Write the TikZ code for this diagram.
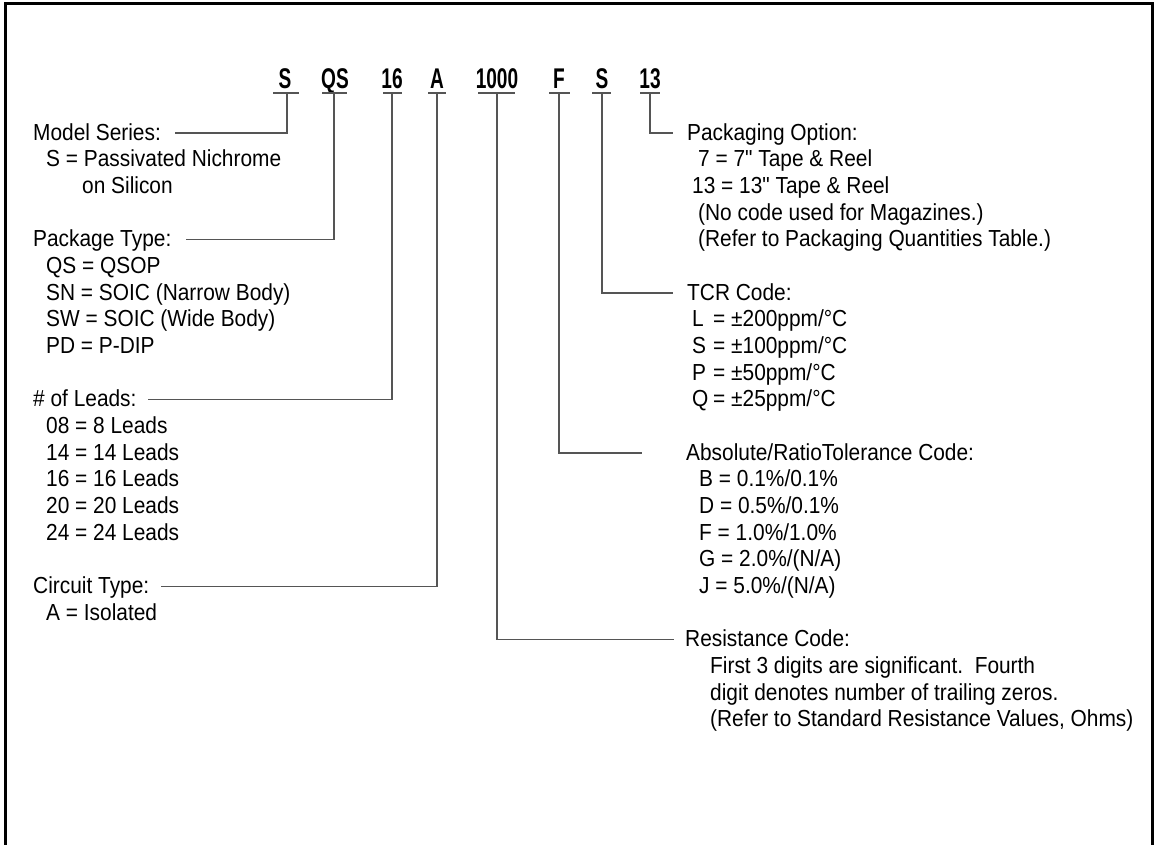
\documentclass[tikz,border=0pt]{standalone}
\usepackage{fontspec}
\setmainfont{Liberation Sans}[FakeStretch=0.90, Ligatures=TeXOff]
\newfontfamily\codefont{Liberation Sans}[FakeStretch=0.67]
\usetikzlibrary{calc}
\definecolor{conncol}{HTML}{555555}
\tikzset{
  txt/.style={anchor=base west, inner sep=0pt, font=\fontsize{23.2}{26.67}\selectfont},
  head/.style={txt, text height=18pt, text depth=4pt},
  code/.style={anchor=base, inner sep=0pt, font=\codefont\bfseries\fontsize{28.5}{30}\selectfont},
  uline/.style={draw=conncol, line width=1.3pt},
  conn/.style={draw=conncol, line width=1.3pt},
  frame/.style={draw=black, line width=3pt}
}
\begin{document}
\begin{tikzpicture}[x=1pt,y=-1pt]
\useasboundingbox (0,0) rectangle (1157,844);
\draw[frame] (5.5,845) -- (5.5,3.5) -- (1152.5,3.5) -- (1152.5,845);

% codes
\node[code] (cS)  at (285,88) {S};
\node[code] (cQS) at (335,88) {QS};
\node[code] (c16) at (392,88) {16};
\node[code] (cA)  at (437,88) {A};
\node[code] (c1000) at (497,88) {1000};
\node[code] (cF)  at (559,88) {F};
\node[code] (cT)  at (602,88) {S};
\node[code] (c13) at (650,88) {13};

\coordinate (uS) at (287,93);
\coordinate (uQS) at (334,93);
\coordinate (u16) at (392,93);
\coordinate (uA) at (437,93);
\coordinate (u1000) at (497,93);
\coordinate (uF) at (559,93);
\coordinate (uT) at (602,93);
\coordinate (u13) at (650,93);

\draw[uline] (273,93) -- (299,93);
\draw[uline] (322,93) -- (347,93);
\draw[uline] (383,93) -- (402,93);
\draw[uline] (428,93) -- (446,93);
\draw[uline] (478,93) -- (515,93);
\draw[uline] (549,93) -- (570,93);
\draw[uline] (592,93) -- (611,93);
\draw[uline] (640,93) -- (660,93);

% left column
\node[head] (msh) at (33,140) {Model Series:};
\node[txt] (ms1) at (46,166.7) {S = Passivated Nichrome};
\node[txt] (ms2) at (82,193.3) {on Silicon};

\node[head] (pth) at (33,246.7) {Package Type:};
\node[txt] (pt1) at (46,273.3) {QS = QSOP};
\node[txt] (pt2) at (46,300) {SN = SOIC (Narrow Body)};
\node[txt] (pt3) at (46,326.7) {SW = SOIC (Wide Body)};
\node[txt] (pt4) at (46,353.3) {PD = P-DIP};

\node[head] (nlh) at (33,406.7) {\# of Leads:};
\node[txt] (nl1) at (46,433.3) {08 = 8 Leads};
\node[txt] (nl2) at (46,460) {14 = 14 Leads};
\node[txt] (nl3) at (46,486.7) {16 = 16 Leads};
\node[txt] (nl4) at (46,513.3) {20 = 20 Leads};
\node[txt] (nl5) at (46,540) {24 = 24 Leads};

\node[head] (cth) at (33,593.3) {Circuit Type:};
\node[txt] (ct1) at (46,620) {A = Isolated};

% right column
\node[head] (poh) at (687,140) {Packaging Option:};
\node[txt] (po1) at (698,166.7) {7 = 7" Tape \& Reel};
\node[txt] (po2) at (692,193.3) {13 = 13" Tape \& Reel};
\node[txt] (po3) at (698,220) {(No code used for Magazines.)};
\node[txt] (po4) at (698,246.7) {(Refer to Packaging Quantities Table.)};

\node[head] (tch) at (687,300) {TCR Code:};
\node[txt] (tc1) at (692,326.7) {\makebox[21pt][l]{L}= ±200ppm/°C};
\node[txt] (tc2) at (692,353.3) {\makebox[21pt][l]{S}= ±100ppm/°C};
\node[txt] (tc3) at (692,380) {\makebox[21pt][l]{P}= ±50ppm/°C};
\node[txt] (tc4) at (692,406.7) {\makebox[21pt][l]{Q}= ±25ppm/°C};

\node[head] (abh) at (686,460) {Absolute/RatioTolerance Code:};
\node[txt] (ab1) at (699,486.7) {B = 0.1\%/0.1\%};
\node[txt] (ab2) at (699,513.3) {D = 0.5\%/0.1\%};
\node[txt] (ab3) at (699,540) {F = 1.0\%/1.0\%};
\node[txt] (ab4) at (699,566.7) {G = 2.0\%/(N/A)};
\node[txt] (ab5) at (699,593.3) {J = 5.0\%/(N/A)};

\node[head] (rch) at (685,646.7) {Resistance Code:};
\node[txt] (rc1) at (710,673.3) {First 3 digits are significant.\ \ Fourth};
\node[txt] (rc2) at (710,700) {digit denotes number of trailing zeros.};
\node[txt] (rc3) at (710,726.7) {(Refer to Standard Resistance Values, Ohms)};

% connectors
\draw[conn] (uS) |- ([xshift=14pt]msh.east);
\draw[conn] (uQS) |- ([xshift=14pt]pth.east);
\draw[conn] (u16) |- ([xshift=11pt]nlh.east);
\draw[conn] (uA) |- ([xshift=12pt]cth.east);
\draw[conn] (u1000) |- ([xshift=-11pt]rch.west);
\draw[conn] (uF) |- ([xshift=-44pt]abh.west);
\draw[conn] (uT) |- ([xshift=-14pt]tch.west);
\draw[conn] (u13) |- ([xshift=-14pt]poh.west);
\end{tikzpicture}
\end{document}
